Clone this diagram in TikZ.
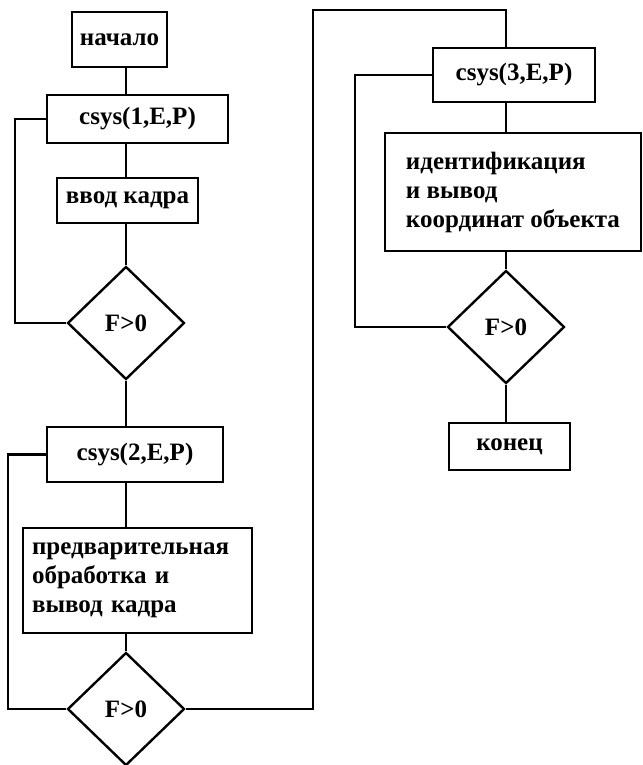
\documentclass[tikz,border=0pt]{standalone}
\usepackage{fontspec}
\setmainfont{Liberation Serif}
\usetikzlibrary{shapes.geometric}

\begin{document}
\begin{tikzpicture}[x=1pt,y=-1pt,
  line width=2.4pt,
  font=\bfseries\fontsize{25}{29}\selectfont,
  block/.style={rectangle,draw,inner sep=0pt,align=center},
  textblock/.style={rectangle,draw,inner sep=0pt,align=left},
  test/.style={diamond,draw,inner sep=0pt,minimum width=117pt,minimum height=113pt},
  link/.style={draw,line width=2.4pt}]
\useasboundingbox (0,0) rectangle (642,765);
% first column
\node[block,minimum width=95pt,minimum height=55pt] (start) at (119.5,39.5) {начало};
\node[block,minimum width=181pt,minimum height=48pt] (sys1) at (137.5,119) {csys(1,E,P)};
\node[block,minimum width=141pt,minimum height=45pt] (frame) at (127.5,200.5) {ввод кадра};
\node[test] (cond1) at (126,323) {F>0};
\node[block,minimum width=176pt,minimum height=55pt] (sys2) at (135,454.5) {csys(2,E,P)};
\node[textblock,inner xsep=9pt,text width=211pt,minimum height=105pt] (prep) at (137.5,580.5) {предварительная\\обработка и\\вывод кадра};
\node[test] (cond2) at (126,709) {F>0};
% second column
\node[block,minimum width=162pt,minimum height=54pt] (sys3) at (514,75) {csys(3,E,P)};
\node[textblock,minimum width=256pt,minimum height=118pt] (ident) at (513,192) {идентификация\\и вывод\\координат объекта};
\node[test] (cond3) at (506,327) {F>0};
\node[block,minimum width=121pt,minimum height=47pt] (finish) at (509.5,446.5) {конец};
\coordinate (jump) at (313,10);
% main line
\draw[link] (start.south -| cond1) -- (sys1.north -| cond1);
\draw[link] (sys1.south -| cond1) -- (frame.north -| cond1);
\draw[link] (frame.south -| cond1) -- (cond1.north);
\draw[link] (cond1.south) -- (sys2.north -| cond1);
\draw[link] (sys2.south -| cond1) -- (prep.north -| cond1);
\draw[link] (prep.south -| cond1) -- (cond2.north);
\draw[link] (cond2.east) -| (jump) -| (sys3.north -| cond3);
\draw[link] (sys3.south -| cond3) -- (ident.north -| cond3);
\draw[link] (ident.south -| cond3) -- (cond3.north);
\draw[link] (cond3.south) -- (finish.north -| cond3);
% loops
\draw[link] (sys1.west) -- ++(-31,0) |- (cond1.west);
\draw[link] (sys2.west) -- ++(-38,0) |- (cond2.west);
\draw[link] (sys3.west) -- ++(-77,0) |- (cond3.west);
\end{tikzpicture}
\end{document}
